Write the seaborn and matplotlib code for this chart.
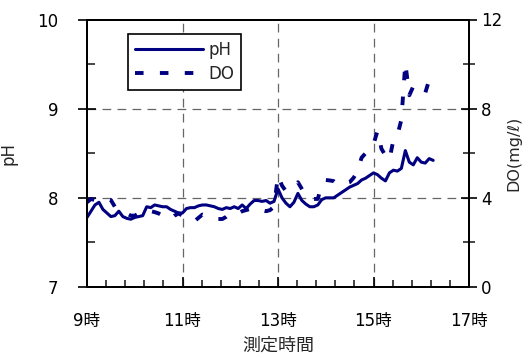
import matplotlib
matplotlib.use("Agg")
import matplotlib.pyplot as plt
import seaborn as sns
import pandas as pd
from matplotlib.ticker import FixedLocator

# Sample times (hh:mm), logged every 5 minutes
times = [
    "9:00", "9:05", "9:10", "9:15", "9:20", "9:25", "9:30", "9:35", "9:40", "9:45", "9:50", "9:55",
    "10:00", "10:05", "10:10", "10:15", "10:20", "10:25", "10:30", "10:35", "10:40", "10:45", "10:50", "10:55",
    "11:00", "11:05", "11:10", "11:15", "11:20", "11:25", "11:30", "11:35", "11:40", "11:45", "11:50", "11:55",
    "12:00", "12:05", "12:10", "12:15", "12:20", "12:25", "12:30", "12:35", "12:40", "12:45", "12:50", "12:55",
    "13:00", "13:05", "13:10", "13:15", "13:20", "13:25", "13:30", "13:35", "13:40", "13:45", "13:50", "13:55",
    "14:00", "14:05", "14:10", "14:15", "14:20", "14:25", "14:30", "14:35", "14:40", "14:45", "14:50", "14:55",
    "15:00", "15:05", "15:10", "15:15", "15:20", "15:25", "15:30", "15:35", "15:40", "15:45", "15:50", "15:55",
    "16:00", "16:05", "16:10", "16:15",
]

ph = [
    7.78, 7.85, 7.92, 7.95, 7.87, 7.83, 7.79, 7.80, 7.85, 7.79, 7.77, 7.76,
    7.78, 7.79, 7.80, 7.90, 7.89, 7.92, 7.91, 7.90, 7.90, 7.87, 7.85, 7.83,
    7.83, 7.88, 7.89, 7.89, 7.91, 7.92, 7.92, 7.91, 7.90, 7.88, 7.87, 7.89,
    7.88, 7.90, 7.88, 7.92, 7.88, 7.93, 7.97, 7.97, 7.96, 7.97, 7.94, 7.96,
    8.10, 8.00, 7.94, 7.90, 7.95, 8.05, 7.97, 7.93, 7.90, 7.90, 7.92, 7.98,
    8.00, 8.00, 8.00, 8.03, 8.06, 8.09, 8.12, 8.14, 8.16, 8.20, 8.22, 8.25,
    8.28, 8.26, 8.22, 8.19, 8.28, 8.31, 8.30, 8.33, 8.53, 8.40, 8.37, 8.45,
    8.40, 8.39, 8.44, 8.42,
]

do = [
    3.80, 3.95, 3.90, 3.85, 3.90, 3.95, 3.90, 3.60, 3.50, 3.40, 3.30, 3.20,
    3.20, 3.30, 3.40, 3.35, 3.40, 3.36, 3.30, 3.20, 3.10, 3.05, 3.20, 3.30,
    3.20, 3.10, 3.00, 2.95, 3.10, 3.25, 3.20, 3.15, 3.10, 3.05, 3.05, 3.15,
    3.30, 3.35, 3.30, 3.40, 3.45, 3.50, 3.55, 3.50, 3.45, 3.40, 3.45, 3.60,
    5.00, 4.55, 4.30, 4.40, 4.50, 4.70, 4.40, 4.10, 4.00, 3.95, 3.95, 4.60,
    4.80, 4.78, 4.75, 4.60, 4.60, 4.65, 4.70, 4.90, 5.20, 5.80, 6.00, 6.20,
    6.40, 7.00, 6.20, 5.90, 5.70, 6.60, 6.80, 7.50, 10.05, 8.60, 9.00, 8.80,
    8.75, 8.70, 9.30, 9.20,
]

hour_ticks = [9, 11, 13, 15, 17]
hour_labels = ["9時", "11時", "13時", "15時", "17時"]
hour_minor = [9.4, 9.8, 10.2, 10.6, 11.4, 11.8, 12.2, 12.6, 13.4, 13.8, 14.2, 14.6,
              15.4, 15.8, 16.2, 16.6]
ph_ticks = [7, 8, 9, 10]
ph_minor = [7.5, 8.5, 9.5]
do_ticks = [0, 4, 8, 12]
do_minor = [2, 6, 10]


def to_hours(s):
    h, m = s.split(":")
    return int(h) + int(m) / 60.0


df = pd.DataFrame({"hour": [to_hours(t) for t in times], "pH": ph, "DO": do})

sns.set_style("white")
plt.rcParams["font.family"] = ["DejaVu Sans", "Noto Sans CJK JP"]
plt.rcParams["font.size"] = 12

NAVY = "#000080"

fig = plt.figure(figsize=(5.29, 3.58), dpi=100)
ax = fig.add_axes([87 / 529, 1 - 287 / 358, (469 - 87) / 529, (287 - 19.5) / 358])
ax2 = ax.twinx()

sns.lineplot(data=df, x="hour", y="pH", ax=ax, color=NAVY, linewidth=2.2,
             label="pH", legend=False)
sns.lineplot(data=df, x="hour", y="DO", ax=ax2, color=NAVY, linewidth=2.8,
             linestyle=(0, (2.2, 4.2)), label="DO", legend=False)

ax.set_xlim(9, 17)
ax.set_ylim(7, 10)
ax2.set_ylim(0, 12)

ax.xaxis.set_major_locator(FixedLocator(hour_ticks))
ax.set_xticklabels(hour_labels, fontsize=12)
ax.xaxis.set_minor_locator(FixedLocator(hour_minor))
ax.yaxis.set_major_locator(FixedLocator(ph_ticks))
ax.yaxis.set_minor_locator(FixedLocator(ph_minor))
ax.set_yticklabels([str(v) for v in ph_ticks], fontsize=12)
ax2.yaxis.set_major_locator(FixedLocator(do_ticks))
ax2.yaxis.set_minor_locator(FixedLocator(do_minor))
ax2.set_yticklabels([str(v) for v in do_ticks], fontsize=12)

# dashed grey reference lines inside the plot area
for v in [11, 13, 15]:
    ax.axvline(v, color="#666666", lw=0.9, ls=(0, (7, 5)), zorder=0.5)
for v in [8, 9]:
    ax.axhline(v, color="#666666", lw=0.9, ls=(0, (7, 5)), zorder=0.5)

for a in (ax, ax2):
    for sp in a.spines.values():
        sp.set_color("black")
        sp.set_linewidth(1.4)
        sp.set_visible(True)

ax.tick_params(axis="y", which="major", direction="inout", length=13, width=1.2,
               pad=14, colors="black", left=True)
ax.tick_params(axis="y", which="minor", direction="in", length=6, width=1.2, left=True)
ax.tick_params(axis="x", which="major", direction="in", length=7, width=1.2,
               pad=18, colors="black", bottom=True)
ax.tick_params(axis="x", which="minor", direction="in", length=5, width=1.2, bottom=True)
ax2.tick_params(axis="y", which="major", direction="inout", length=11, width=1.2,
                pad=3, colors="black", right=True)
ax2.tick_params(axis="y", which="minor", direction="inout", length=8, width=1.2, right=True)

ax.set_xlabel("測定時間", fontsize=13, labelpad=5)
ax.set_ylabel("pH", fontsize=12, labelpad=14)
ax2.set_ylabel("DO(mg/ℓ)", fontsize=11.5, labelpad=3)

handles = ax.get_lines()[:1] + ax2.get_lines()[:1]
leg = ax2.legend(handles, ["pH", "DO"], loc="upper left",
                 bbox_to_anchor=(128 / 529, 1 - 34 / 358), bbox_transform=fig.transFigure,
                 borderaxespad=0, fancybox=False, frameon=True, fontsize=12,
                 handlelength=4.1, handletextpad=0.3, labelspacing=0.4, borderpad=0.4)
leg.get_frame().set_edgecolor("black")
leg.get_frame().set_linewidth(1.2)
leg.get_frame().set_facecolor("white")
leg.get_frame().set_alpha(1)

fig.savefig("out.png", dpi=100)
